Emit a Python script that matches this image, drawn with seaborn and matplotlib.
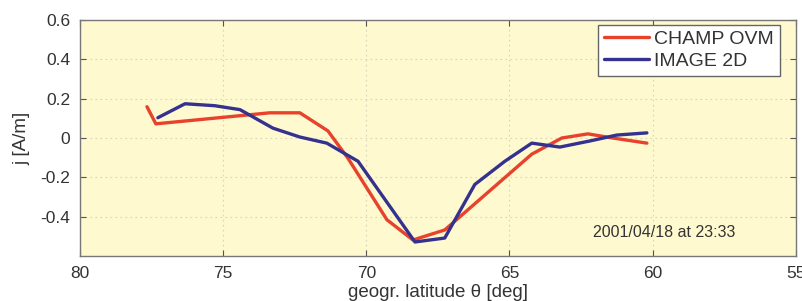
import matplotlib
matplotlib.use("Agg")
import matplotlib.pyplot as plt
import numpy as np
import pandas as pd
import seaborn as sns

# CHAMP OVM
champ_lat = [77.66, 77.35, 73.37, 72.32, 71.34, 70.64, 69.28, 68.37, 67.26, 64.22, 63.17, 62.26, 61.39, 60.20]
champ_j = [0.159, 0.072, 0.128, 0.128, 0.036, -0.103, -0.415, -0.518, -0.467, -0.082, 0.0, 0.021, 0.0, -0.026]

# IMAGE 2D
image_lat = [77.28, 76.33, 75.29, 74.41, 73.26, 72.32, 71.38, 70.29, 68.30, 67.26, 66.21, 65.16, 64.22, 63.24, 62.19, 61.25, 60.20]
image_j = [0.103, 0.174, 0.164, 0.144, 0.05, 0.005, -0.026, -0.118, -0.528, -0.508, -0.236, -0.118, -0.026, -0.046, -0.015, 0.015, 0.026]

xticks = [80, 75, 70, 65, 60, 55]
yticks = [-0.4, -0.2, 0, 0.2, 0.4, 0.6]
ytick_labels = ["-0.4", "-0.2", "0", "0.2", "0.4", "0.6"]

df = pd.concat([
    pd.DataFrame({"lat": champ_lat, "j": champ_j, "src": "CHAMP OVM"}),
    pd.DataFrame({"lat": image_lat, "j": image_j, "src": "IMAGE 2D"}),
])

sns.set_style("ticks")
plt.rcParams['font.family'] = ['Liberation Sans', 'DejaVu Sans']

fig = plt.figure(figsize=(8.03, 3.01), dpi=100)
ax = fig.add_axes([0.0996, 0.149, 0.8914, 0.785])
ax.set_facecolor("#fef9cf")

sns.lineplot(data=df, x="lat", y="j", hue="src", sort=False, estimator=None,
             palette={"CHAMP OVM": "#e8412c", "IMAGE 2D": "#34318f"},
             linewidth=2.4, ax=ax)

ax.set_xlim(80, 55)
ax.set_ylim(-0.6, 0.6)
ax.set_xticks(xticks)
ax.set_yticks(yticks)
ax.set_yticklabels(ytick_labels)
ax.grid(True, linestyle=(0, (1.5, 3)), color="#d6d6bc", linewidth=0.8)
ax.tick_params(direction="in", top=True, right=True, length=4, labelsize=12.5,
               colors="#555555", labelcolor="#333333", pad=7)
for s in ax.spines.values():
    s.set_color("#777777")
    s.set_linewidth(1.0)

ax.set_xlabel("geogr. latitude θ [deg]", fontsize=13.5, color="#333333", labelpad=2)
ax.set_ylabel("j [A/m]", fontsize=13.5, color="#333333", labelpad=7)

ax.text(0.915, 0.10, "2001/04/18 at 23:33", transform=ax.transAxes,
        ha="right", va="center", fontsize=11.5, color="#333333")

leg = ax.legend(loc="upper right", bbox_to_anchor=(0.978, 0.979), fontsize=14,
                frameon=True, fancybox=False, borderpad=0.3, handlelength=2.3,
                handletextpad=0.3, labelspacing=0.2, borderaxespad=0)
leg.get_frame().set_edgecolor("#666666")
leg.get_frame().set_facecolor("white")
leg.get_frame().set_alpha(1)
for t in leg.get_texts():
    t.set_color("#333333")

fig.savefig("out.png", dpi=100, facecolor="white")
